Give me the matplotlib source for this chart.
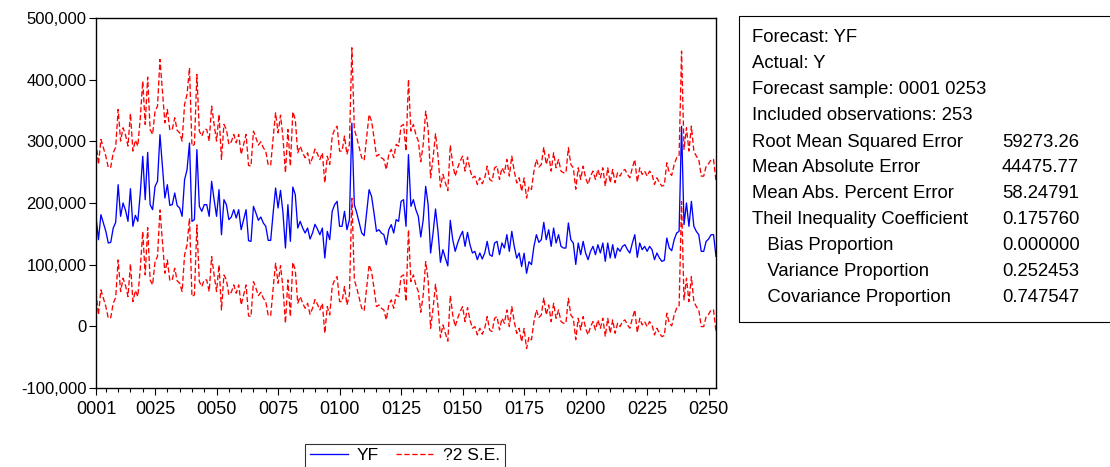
import matplotlib
matplotlib.use("Agg")
import matplotlib.pyplot as plt
from matplotlib.ticker import FuncFormatter, FixedLocator
from matplotlib.patches import Rectangle
import numpy as np

plt.rcParams['font.family'] = ['Liberation Sans', 'DejaVu Sans']

# ---------------- data ----------------
yf_thousands = [
    177.3, 140.5, 181.1, 167.6, 154.0, 135.1, 136.2, 159.4, 168.6, 229.7, 178.4, 200.0, 188.1, 170.3, 223.2, 162.2,
    180.0, 170.3, 216.2, 275.7, 205.4, 282.1, 197.3, 189.2, 227.0, 235.1, 310.8, 259.4, 208.1, 229.7, 196.2, 197.3, 216.2,
    195.7, 191.9, 178.4, 237.8, 254.0, 297.3, 170.3, 173.0, 286.5, 194.6, 186.5, 197.3, 197.3, 178.4, 235.1, 205.4,
    178.4, 221.6, 148.6, 205.4, 197.3, 173.0, 177.3, 189.2, 175.7, 189.2, 156.7, 173.0, 189.2, 138.9, 137.8, 194.6,
    183.8, 171.9, 177.3, 167.6, 162.2, 139.4, 139.4, 183.8, 224.3, 191.9, 220.5, 183.8, 127.0, 197.3, 137.8, 225.9,
    213.5, 159.4, 170.3, 159.4, 151.3, 159.4, 141.6, 151.3, 165.4, 157.8, 148.6, 159.4, 110.8, 154.0, 140.5, 186.5,
    197.3, 202.7, 162.2, 162.2, 186.5, 156.7, 173.0, 329.7, 197.3, 183.8, 167.6, 151.3, 147.0, 183.8, 221.6, 210.8,
    183.8, 154.0, 156.7, 151.3, 148.6, 132.4, 156.7, 164.9, 151.3, 173.0, 170.3, 202.7, 205.4, 162.2, 278.4, 194.6, 205.4,
    189.2, 178.4, 144.9, 173.0, 227.0, 197.3, 118.9, 151.3, 190.3, 154.0, 103.8, 124.3, 110.8, 98.0, 171.9, 140.5,
    121.6, 135.1, 145.9, 154.0, 129.7, 152.4, 132.4, 118.9, 121.6, 108.1, 118.9, 109.2, 118.9, 137.8, 116.2, 113.5,
    135.1, 137.8, 116.2, 135.1, 127.0, 148.6, 121.6, 154.0, 129.7, 110.5, 118.9, 97.0, 118.6, 86.0, 104.8, 100.1,
    129.7, 148.6, 136.2, 140.5, 168.6, 140.5, 156.7, 129.7, 159.4, 135.1, 148.6, 129.7, 127.0, 127.0, 167.6, 140.5, 135.1,
    100.4, 135.1, 116.2, 137.8, 118.9, 108.1, 121.6, 129.7, 116.2, 132.4, 118.9, 135.1, 105.4, 135.1, 110.8, 132.4,
    110.8, 127.0, 121.6, 129.7, 132.4, 124.3, 118.9, 135.1, 148.6, 111.9, 135.1, 124.3, 129.7, 121.6, 129.7, 124.3,
    108.1, 118.9, 110.8, 105.4, 107.0, 143.2, 127.0, 122.7, 140.5, 151.3, 154.0, 324.3, 164.9, 200.0, 162.2, 202.7,
    162.2, 154.0, 148.6, 121.6, 121.6, 137.8, 141.6, 148.6, 148.6, 113.5,
]
forecast_se = 61000.0          # standard error of forecast
x_tick_obs = [1, 25, 50, 75, 100, 125, 150, 175, 200, 225, 250]
x_tick_labels = ["0001", "0025", "0050", "0075", "0100", "0125", "0150", "0175", "0200", "0225", "0250"]
y_ticks = [-100000, 0, 100000, 200000, 300000, 400000, 500000]

stat_labels = ["Forecast: YF", "Actual: Y", "Forecast sample: 0001 0253", "Included observations: 253",
               "Root Mean Squared Error", "Mean Absolute Error", "Mean Abs. Percent Error",
               "Theil Inequality Coefficient", "   Bias Proportion", "   Variance Proportion",
               "   Covariance Proportion"]
stat_values = ["", "", "", "", "59273.26", "44475.77", "58.24791", "0.175760", "0.000000", "0.252453", "0.747547"]

# ---------------- figure ----------------
W, H = 1110, 467
fig = plt.figure(figsize=(W / 100, H / 100), dpi=100)
ax = fig.add_axes([96 / W, 1 - 388 / H, (716 - 96) / W, (388 - 18) / H])

obs = np.arange(1, len(yf_thousands) + 1)
yf = np.array(yf_thousands) * 1000.0
upper = yf + 2 * forecast_se
lower = yf - 2 * forecast_se

l1, = ax.plot(obs, yf, color="#0000FF", lw=0.95, label="YF")
l2, = ax.plot(obs, upper, color="#FF0000", lw=0.95, ls=(0, (4, 2)), label="?2 S.E.")
ax.plot(obs, lower, color="#FF0000", lw=0.95, ls=(0, (4, 2)))

ax.set_xlim(1, len(yf_thousands))
ax.set_ylim(-100000, 500000)
ax.xaxis.set_major_locator(FixedLocator(x_tick_obs))
ax.set_xticklabels(x_tick_labels)
ax.xaxis.set_minor_locator(FixedLocator([v for v in range(5, 253, 5) if v not in x_tick_obs]))
ax.yaxis.set_major_locator(FixedLocator(y_ticks))
ax.yaxis.set_major_formatter(FuncFormatter(lambda v, p: f"{int(v):,}"))

ax.tick_params(axis="y", which="major", direction="out", length=5, width=0.8, labelsize=12, pad=2, right=False)
ax.tick_params(axis="x", which="major", direction="out", length=5, width=0.8, labelsize=13, pad=4, top=False)
ax.tick_params(axis="x", which="minor", direction="out", length=3, width=0.8, top=False)
for sp in ax.spines.values():
    sp.set_linewidth(1.0)
    sp.set_color("black")

# legend
leg = fig.legend(handles=[l1, l2], loc="upper center", bbox_to_anchor=(405 / W, 1 - 444 / H), ncol=2,
                 frameon=True, fancybox=False, shadow=False, fontsize=12.5, handlelength=2.2,
                 columnspacing=1.0, handletextpad=0.5, borderpad=0.25, borderaxespad=0.0)
leg.get_frame().set_edgecolor("black")
leg.get_frame().set_linewidth(0.8)

# stats box
fig.patches.append(Rectangle((739 / W, 1 - 322 / H), (1120 - 739) / W, (322 - 16) / H,
                             transform=fig.transFigure, fill=False, edgecolor="black", lw=0.8))
line_y = [37, 63, 90, 116, 142, 168, 194, 220, 246, 272, 298]
for lab, val, yy in zip(stat_labels, stat_values, line_y):
    fig.text(752 / W, 1 - yy / H, lab, fontsize=13.3, va="center", ha="left")
    if val:
        fig.text(1002 / W, 1 - yy / H, val, fontsize=13.3, va="center", ha="left")

fig.savefig("out.png", dpi=100)
